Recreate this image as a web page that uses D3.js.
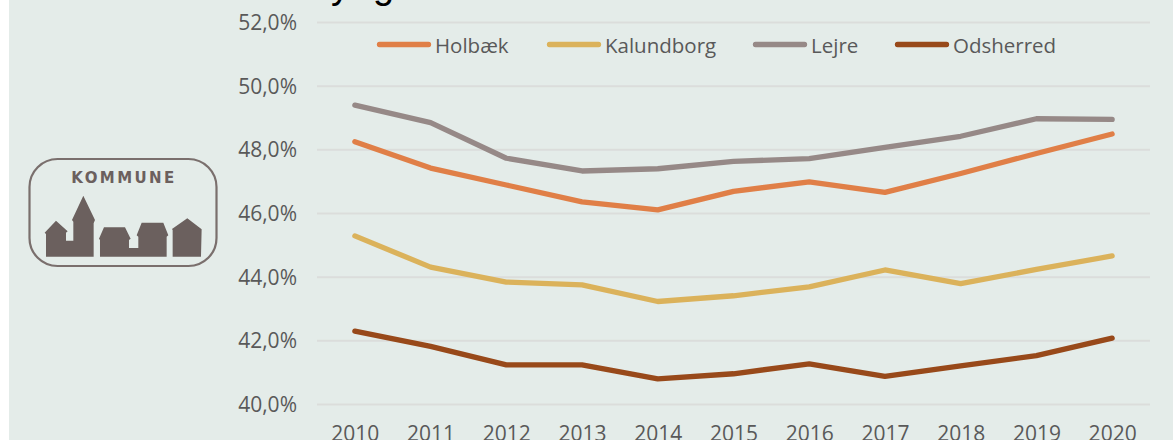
<!DOCTYPE html>
<html><head><meta charset="utf-8">
<script src="https://cdn.jsdelivr.net/npm/d3@7/dist/d3.min.js"></script>
<style>
html,body{margin:0;padding:0;background:#fff;overflow:hidden}
svg{display:block}
text{font-family:"Open Sans",sans-serif;fill:#595959}
</style></head><body>
<svg id="c" width="1173" height="440"></svg>
<script>
const years = [2010,2011,2012,2013,2014,2015,2016,2017,2018,2019,2020];
const holbaek = [48.24,47.41,46.88,46.35,46.10,46.68,46.98,46.65,47.24,47.87,48.48];
const kalundborg = [45.28,44.30,43.83,43.74,43.22,43.40,43.68,44.21,43.78,44.23,44.65];
const lejre = [49.39,48.84,47.72,47.32,47.39,47.62,47.71,48.06,48.41,48.96,48.94];
const odsherred = [42.29,41.81,41.23,41.23,40.79,40.95,41.26,40.87,41.20,41.52,42.07];
const seriesNames = ["Holbæk","Kalundborg","Lejre","Odsherred"];
const seriesValues = [holbaek,kalundborg,lejre,odsherred];
const seriesColors = ["#E07F47","#DBB25B","#968987","#98491A"];
const yTicks = [40,42,44,46,48,50,52];
const legendX = [377,547,753,895];

const svg = d3.select("#c");
svg.append("rect").attr("x",9).attr("y",0).attr("width",1164).attr("height",440).attr("fill","#E4ECE9");

// cropped title: only descenders remain
svg.append("text").attr("x",331).attr("y",-2).attr("font-size",38).style("font-family","Liberation Sans").style("fill","#000").text("y");
svg.append("text").attr("x",373).attr("y",-2).attr("font-size",38).style("font-family","Liberation Sans").style("fill","#000").text("g");

const x = d3.scalePoint().domain(years).range([317,1150]).padding(0.5);
const y = d3.scaleLinear().domain([40,52]).range([404,22]);

const fmt = v => d3.format(".1f")(v).replace(".",",")+"%";
const gy = svg.append("g").attr("transform","translate(317,0)")
  .call(d3.axisLeft(y).tickValues(yTicks).tickFormat(fmt).tickSize(-833).tickPadding(20));
gy.select(".domain").remove();
gy.selectAll("line").attr("stroke","#DBDDDB").attr("stroke-width",2);
gy.selectAll("text").attr("font-size",21).attr("fill","#595959").attr("dy","0.36em");

const gx = svg.append("g").attr("transform","translate(0,404)")
  .call(d3.axisBottom(x).tickSize(0).tickPadding(22).tickFormat(d3.format("d")));
gx.select(".domain").remove();
gx.selectAll("text").attr("font-size",21);

const line = d3.line().x((d,i)=>x(years[i])).y(d=>y(d));
svg.append("g").selectAll("path").data(seriesValues).join("path")
  .attr("d",line).attr("fill","none")
  .attr("stroke",(d,i)=>seriesColors[i]).attr("stroke-width",5.3)
  .attr("stroke-linecap","round").attr("stroke-linejoin","round");

const lg = svg.append("g").selectAll("g").data(seriesNames).join("g")
  .attr("transform",(d,i)=>`translate(${legendX[i]},44.5)`);
lg.append("line").attr("x1",2.5).attr("x2",51.5).attr("stroke",(d,i)=>seriesColors[i])
  .attr("stroke-width",5.3).attr("stroke-linecap","round");
lg.append("text").attr("x",58).attr("y",8.5).attr("font-size",20.5).text(d=>d);

// logo
const logo = svg.append("g");
logo.append("rect").attr("x",29.5).attr("y",159).attr("width",187).attr("height",107).attr("rx",28)
  .attr("fill","none").attr("stroke","#7A6F6D").attr("stroke-width",2.2);
logo.append("text").attr("x",124).attr("y",183).attr("text-anchor","middle").attr("font-size",15)
  .attr("font-weight",700).attr("letter-spacing",2.4).style("font-family","DejaVu Sans").style("fill","#6B605E").text("KOMMUNE");
logo.append("path").attr("transform","translate(0,130) scale(0.3333)").attr("fill","#6B605E")
  .attr("d","M138,380 L138,312 L134,308 L168,272 L203,304 L198,308 L198,332 L220,332 L220,275 L216,270 L250,197 L285,270 L281,280 L281,380 Z M300,380 L300,330 L297,326 L312,292 L375,292 L392,326 L387,330 L387,354 L415,354 L415,320 L410,316 L425,278 L490,278 L505,316 L500,320 L500,380 Z M518,380 L518,300 L516,297 L562,265 L605,298 L603,380 Z");
</script>
</body></html>
